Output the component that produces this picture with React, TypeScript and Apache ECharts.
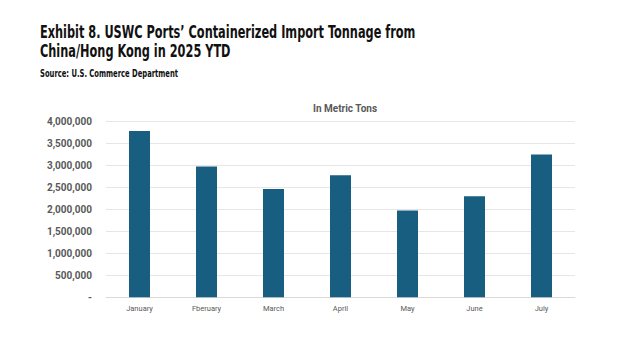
import React, { useEffect, useRef } from "react";
import * as echarts from "echarts";

const months = ["January", "Fberuary", "March", "April", "May", "June", "July"];
const tonnage = [3790000, 2980000, 2465000, 2780000, 1980000, 2300000, 3250000];
const titleLines = [
  "Exhibit 8. USWC Ports’ Containerized Import Tonnage from",
  "China/Hong Kong in 2025 YTD",
];
const sourceText = "Source: U.S. Commerce Department";
const unitText = "In Metric Tons";

const condensed = "'DejaVu Sans Condensed', 'Roboto', sans-serif";

export default function App() {
  const ref = useRef<HTMLDivElement>(null);
  useEffect(() => {
    document.body.style.margin = "0";
    const chart = echarts.init(ref.current!, null, { renderer: "svg" });
    chart.setOption({
      animation: false,
      backgroundColor: "#ffffff",
      graphic: [
        {
          type: "text",
          x: 40,
          y: 32.5,
          scaleX: 0.7,
          style: {
            text: titleLines[0],
            x: 0,
            y: 0,
            fontFamily: condensed,
            fontWeight: "bold",
            fontSize: 18,
            fill: "#111111",
            verticalAlign: "middle",
          },
        },
        {
          type: "text",
          x: 40,
          y: 51.5,
          scaleX: 0.7,
          style: {
            text: titleLines[1],
            x: 0,
            y: 0,
            fontFamily: condensed,
            fontWeight: "bold",
            fontSize: 18,
            fill: "#111111",
            verticalAlign: "middle",
          },
        },
        {
          type: "text",
          x: 40,
          y: 73.5,
          scaleX: 0.72,
          style: {
            text: sourceText,
            x: 0,
            y: 0,
            fontFamily: condensed,
            fontWeight: "bold",
            fontSize: 10.5,
            fill: "#111111",
            verticalAlign: "middle",
          },
        },
      ],
      title: [
        {
          text: unitText,
          left: 340,
          textAlign: "center",
          top: 98,
          textStyle: {
            fontFamily: "Roboto",
            fontWeight: "bold",
            fontSize: 10,
            color: "#595959",
          },
        },
      ],
      grid: { left: 106, right: 49, top: 121.7, bottom: 53.7, containLabel: false },
      xAxis: {
        type: "category",
        data: months,
        axisTick: { show: false },
        axisLine: { lineStyle: { color: "#d9d9d9" } },
        axisLabel: {
          fontFamily: "Roboto",
          fontSize: 7.5,
          color: "#595959",
          margin: 7,
        },
      },
      yAxis: {
        type: "value",
        min: 0,
        max: 4000000,
        interval: 500000,
        axisLine: { show: false },
        axisTick: { show: false },
        splitLine: { lineStyle: { color: "#e6e6e6" } },
        axisLabel: {
          fontFamily: "Roboto",
          fontWeight: "bold",
          fontSize: 10,
          color: "#595959",
          margin: 14,
          formatter: (v: number) => (v === 0 ? "-" : v.toLocaleString("en-US")),
        },
      },
      series: [
        {
          type: "bar",
          data: tonnage,
          barWidth: 21,
          itemStyle: { color: "#175e81" },
        },
      ],
    });
    return () => chart.dispose();
  }, []);
  return <div ref={ref} style={{ width: 624, height: 351 }} />;
}
